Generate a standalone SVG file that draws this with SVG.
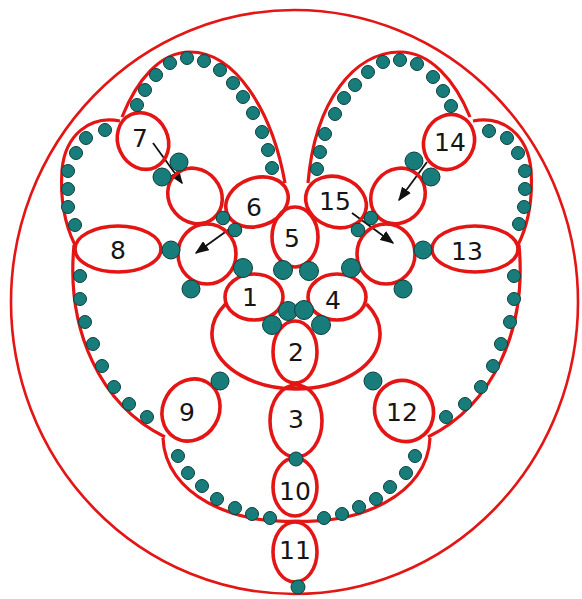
<svg xmlns="http://www.w3.org/2000/svg" width="582" height="599" viewBox="0 0 582 599">
<defs>
<style>
.n{fill:none;stroke:#e31515;stroke-width:3.6}
.l{fill:none;stroke:#e31515;stroke-width:3.2}
.o{fill:none;stroke:#e31515;stroke-width:2.6}
.t{font-family:"DejaVu Sans",Verdana,sans-serif;font-size:25px;fill:#151515;text-anchor:middle}
.d{fill:#177c7a;stroke:#0c3f3e;stroke-width:1}
.a{stroke:#111;stroke-width:1.8;fill:none;marker-end:url(#ah)}
</style>
<marker id="ah" viewBox="0 0 10 10" refX="9" refY="5" markerWidth="14" markerHeight="11" orient="auto" markerUnits="userSpaceOnUse" preserveAspectRatio="none">
<path d="M0,0 L10,5 L0,10 z" fill="#111"/>
</marker>
</defs>
<rect width="582" height="599" fill="#fff"/>
<ellipse class="o" cx="294.5" cy="302" rx="283.5" ry="292"/>
<g id="connectors">
<path class="l" d="M285,183 C272,110 235,52 190,52 C160,52 137,80 122,117"/>
<path class="l" d="M120,121 C90,115 65,135 62,170 C60,200 65,225 75,245"/>
<path class="l" d="M74,245 C66,330 100,405 165,437"/>
<path class="l" d="M163,438 C165,495 235,525 296,521"/>
<path class="l" d="M430,438 C428,495 358,525 296,521"/>
<path class="l" d="M519,245 C527,330 493,405 428,437"/>
<path class="l" d="M473,121 C503,115 528,135 531,170 C533,200 528,225 518,245"/>
<path class="l" d="M308,183 C315,100 355,52 400,52 C430,52 455,80 470,117"/>
<line class="a" x1="153" y1="143" x2="182" y2="183"/>
<line class="a" x1="235" y1="225" x2="196" y2="253"/>
<line class="a" x1="427" y1="162" x2="399" y2="200"/>
<line class="a" x1="352" y1="213" x2="393" y2="243"/>
</g>
<g id="big"><path class="n" d="M225.5,304 A84,55 0 1 0 366.5,304"/></g>
<g id="n7"><ellipse class="n" cx="143" cy="141" rx="25" ry="29" transform="rotate(-25 143 141)"/><text class="t" x="140" y="147">7</text></g>
<g id="nA"><ellipse class="n" cx="195" cy="196" rx="26" ry="29" transform="rotate(-40 195 196)"/></g>
<g id="n6"><ellipse class="n" cx="257" cy="202" rx="32" ry="24" transform="rotate(-20 257 202)"/><text class="t" x="254" y="216">6</text></g>
<g id="nB"><ellipse class="n" cx="207" cy="254" rx="29" ry="30"/></g>
<g id="n8"><ellipse class="n" cx="118" cy="249" rx="43" ry="23"/><text class="t" x="118" y="259">8</text></g>
<g id="n5"><ellipse class="n" cx="295" cy="237" rx="23" ry="30"/><text class="t" x="292" y="247">5</text></g>
<g id="n1"><ellipse class="n" cx="254" cy="297" rx="29" ry="23"/><text class="t" x="250" y="306">1</text></g>
<g id="n4"><ellipse class="n" cx="337" cy="297" rx="29" ry="23"/><text class="t" x="333" y="309">4</text></g>
<g id="n2"><ellipse class="n" cx="295" cy="352" rx="22" ry="31"/><text class="t" x="296" y="361">2</text></g>
<g id="n3"><ellipse class="n" cx="296" cy="421" rx="26" ry="36"/><text class="t" x="296" y="428">3</text></g>
<g id="n10"><ellipse class="n" cx="295" cy="487" rx="22" ry="29"/><text class="t" x="295" y="500">10</text></g>
<g id="n11"><ellipse class="n" cx="295" cy="552" rx="22" ry="30"/><text class="t" x="295" y="559">11</text></g>
<g id="n9"><ellipse class="n" cx="191" cy="410" rx="28" ry="32" transform="rotate(30 191 410)"/><text class="t" x="187" y="421">9</text></g>
<g id="n12"><ellipse class="n" cx="404" cy="411" rx="29" ry="31" transform="rotate(-30 404 411)"/><text class="t" x="402" y="421">12</text></g>
<g id="n14"><ellipse class="n" cx="449" cy="142" rx="25" ry="28" transform="rotate(25 449 142)"/><text class="t" x="450" y="151">14</text></g>
<g id="nC"><ellipse class="n" cx="398" cy="196" rx="26" ry="29" transform="rotate(40 398 196)"/></g>
<g id="n15"><ellipse class="n" cx="336" cy="202" rx="31" ry="25" transform="rotate(20 336 202)"/><text class="t" x="335" y="210">15</text></g>
<g id="nD"><ellipse class="n" cx="386" cy="254" rx="29" ry="30"/></g>
<g id="n13"><ellipse class="n" cx="475" cy="249" rx="43" ry="23"/><text class="t" x="467" y="260">13</text></g>
<g id="beads">
<circle class="d" cx="137" cy="105" r="6.5"/><circle class="d" cx="145" cy="90" r="6.5"/><circle class="d" cx="156" cy="75" r="6.5"/><circle class="d" cx="170" cy="63" r="6.5"/><circle class="d" cx="187" cy="58" r="6.5"/><circle class="d" cx="204" cy="61" r="6.5"/><circle class="d" cx="220" cy="70" r="6.5"/><circle class="d" cx="233" cy="83" r="6.5"/><circle class="d" cx="243" cy="97" r="6.5"/><circle class="d" cx="253" cy="113" r="6.5"/><circle class="d" cx="262" cy="132" r="6.5"/><circle class="d" cx="268" cy="150" r="6.5"/><circle class="d" cx="272" cy="168" r="6.5"/>
<circle class="d" cx="105" cy="130" r="6.5"/><circle class="d" cx="86" cy="138" r="6.5"/><circle class="d" cx="76" cy="153" r="6.5"/><circle class="d" cx="68" cy="171" r="6.5"/><circle class="d" cx="68" cy="189" r="6.5"/><circle class="d" cx="68" cy="207" r="6.5"/><circle class="d" cx="75" cy="225" r="6.5"/>
<circle class="d" cx="80" cy="276" r="6.5"/><circle class="d" cx="80" cy="299" r="6.5"/><circle class="d" cx="85" cy="322" r="6.5"/><circle class="d" cx="93" cy="344" r="6.5"/><circle class="d" cx="102" cy="366" r="6.5"/><circle class="d" cx="114" cy="387" r="6.5"/><circle class="d" cx="129" cy="404" r="6.5"/><circle class="d" cx="147" cy="417" r="6.5"/>
<circle class="d" cx="178" cy="456" r="6.5"/><circle class="d" cx="188" cy="473" r="6.5"/><circle class="d" cx="202" cy="486" r="6.5"/><circle class="d" cx="217" cy="499" r="6.5"/><circle class="d" cx="235" cy="508" r="6.5"/><circle class="d" cx="252" cy="514" r="6.5"/><circle class="d" cx="270" cy="518" r="6.5"/>
<circle class="d" cx="324" cy="518" r="6.5"/><circle class="d" cx="342" cy="514" r="6.5"/><circle class="d" cx="359" cy="507" r="6.5"/><circle class="d" cx="376" cy="499" r="6.5"/><circle class="d" cx="390" cy="487" r="6.5"/><circle class="d" cx="406" cy="473" r="6.5"/><circle class="d" cx="415" cy="456" r="6.5"/>
<circle class="d" cx="446" cy="417" r="6.5"/><circle class="d" cx="465" cy="404" r="6.5"/><circle class="d" cx="481" cy="387" r="6.5"/><circle class="d" cx="493" cy="366" r="6.5"/><circle class="d" cx="501" cy="344" r="6.5"/><circle class="d" cx="510" cy="322" r="6.5"/><circle class="d" cx="514" cy="299" r="6.5"/><circle class="d" cx="514" cy="276" r="6.5"/>
<circle class="d" cx="489" cy="131" r="6.5"/><circle class="d" cx="507" cy="138" r="6.5"/><circle class="d" cx="518" cy="153" r="6.5"/><circle class="d" cx="525" cy="171" r="6.5"/><circle class="d" cx="525" cy="189" r="6.5"/><circle class="d" cx="524" cy="207" r="6.5"/><circle class="d" cx="519" cy="224" r="6.5"/>
<circle class="d" cx="317" cy="169" r="6.5"/><circle class="d" cx="320" cy="152" r="6.5"/><circle class="d" cx="325" cy="134" r="6.5"/><circle class="d" cx="335" cy="114" r="6.5"/><circle class="d" cx="344" cy="98" r="6.5"/><circle class="d" cx="355" cy="85" r="6.5"/><circle class="d" cx="368" cy="72" r="6.5"/><circle class="d" cx="383" cy="62" r="6.5"/><circle class="d" cx="400" cy="60" r="6.5"/><circle class="d" cx="417" cy="64" r="6.5"/><circle class="d" cx="433" cy="77" r="6.5"/><circle class="d" cx="443" cy="91" r="6.5"/><circle class="d" cx="451" cy="106" r="6.5"/>
<circle class="d" cx="179" cy="162" r="9"/><circle class="d" cx="162" cy="177" r="9"/>
<circle class="d" cx="414" cy="161" r="9"/><circle class="d" cx="431" cy="177" r="9"/>
<circle class="d" cx="223" cy="218" r="6.8"/><circle class="d" cx="235" cy="230" r="6.8"/>
<circle class="d" cx="371" cy="218" r="6.8"/><circle class="d" cx="358" cy="230" r="6.8"/>
<circle class="d" cx="171" cy="250" r="9"/><circle class="d" cx="191" cy="289" r="9"/>
<circle class="d" cx="423" cy="250" r="9"/><circle class="d" cx="403" cy="289" r="9"/>
<circle class="d" cx="243" cy="268" r="9.5"/><circle class="d" cx="283" cy="270" r="9.5"/><circle class="d" cx="309" cy="271" r="9.5"/><circle class="d" cx="351" cy="268" r="9.5"/>
<circle class="d" cx="288" cy="311" r="9.5"/><circle class="d" cx="304" cy="310" r="9.5"/><circle class="d" cx="272" cy="325" r="9.5"/><circle class="d" cx="321" cy="325" r="9.5"/>
<circle class="d" cx="220" cy="381" r="9"/><circle class="d" cx="373" cy="381" r="9"/>
<circle class="d" cx="296" cy="459" r="7"/><circle class="d" cx="298" cy="587" r="7"/>
</g>
</svg>
